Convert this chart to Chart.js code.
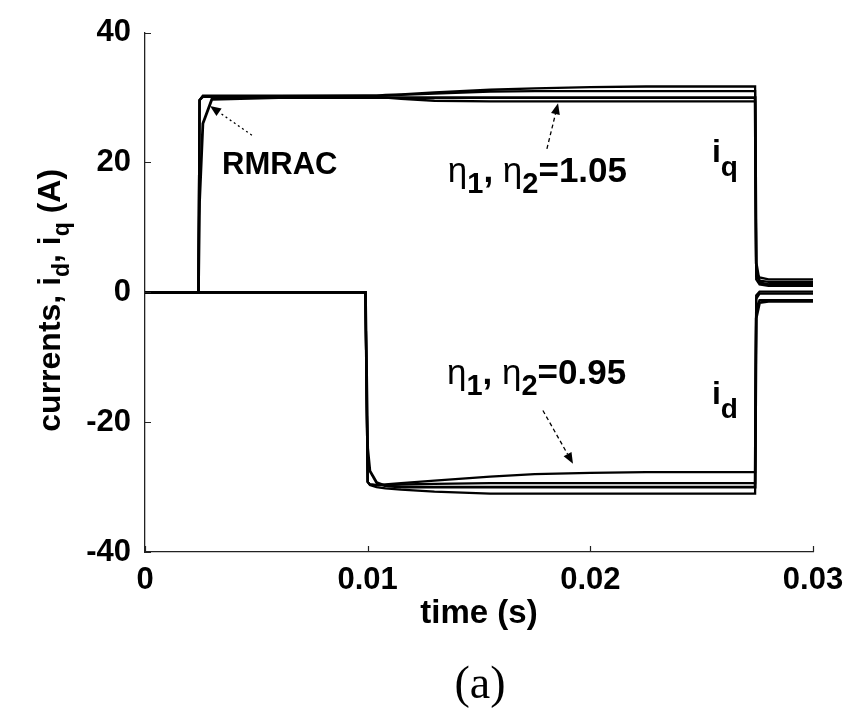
<!DOCTYPE html>
<html><head><meta charset="utf-8">
<script src="https://cdn.jsdelivr.net/npm/chart.js@4"></script>
<style>html,body{margin:0;padding:0;background:#fff;overflow:hidden}</style>
</head><body>
<canvas id="c" width="858" height="715"></canvas>
<script>
// ---- data ----
const time = [0, 0.0024, 0.00245, 0.0026, 0.003, 0.006, 0.0099, 0.01, 0.0101, 0.0104, 0.0108, 0.0115, 0.013, 0.0155, 0.0175, 0.02, 0.0225, 0.0274, 0.02745, 0.0276, 0.028, 0.03];

const iqA = [0, 0, 29.6, 30.3, 30.3, 30.3, 30.3, 30.3, 30.3, 30.3, 30.4, 30.5, 30.8, 31.2, 31.4, 31.6, 31.7, 31.7, 3.0, 2.3, 2.0, 2.0];
const iqB = [0, 0, 29.6, 30.2, 30.2, 30.2, 30.3, 30.3, 30.3, 30.3, 30.3, 30.4, 30.6, 30.9, 31.0, 31.0, 31.0, 31.0, 2.5, 1.8, 1.6, 1.6];
const iqRMRAC = [0, 0, 14, 26, 29.7, 30.0, 30.0, 30.0, 30.0, 30.0, 30.0, 30.0, 30.0, 30.0, 30.0, 30.0, 30.0, 30.0, 4.5, 1.5, 1.2, 1.2];
const iqD = [0, 0, 29.6, 30.1, 30.1, 30.1, 30.2, 30.2, 30.2, 30.1, 30.0, 29.8, 29.5, 29.4, 29.4, 29.4, 29.4, 29.4, 2.0, 1.2, 1.0, 1.0];

const idA = [0, 0, 0, 0, 0, 0, 0, -29.2, -29.6, -29.7, -29.6, -29.4, -29.0, -28.4, -28.0, -27.8, -27.7, -27.7, -0.5, 0.1, 0.1, 0.1];
const idB = [0, 0, 0, 0, 0, 0, 0, -29.2, -29.6, -29.7, -29.7, -29.6, -29.5, -29.4, -29.4, -29.4, -29.4, -29.4, -1.0, -0.2, -0.2, -0.2];
const idRMRAC = [0, 0, 0, 0, 0, 0, 0, -24, -27.5, -29.3, -29.8, -30.0, -30.0, -30.0, -30.0, -30.0, -30.0, -30.0, -4.0, -1.6, -1.4, -1.4];
const idD = [0, 0, 0, 0, 0, 0, 0, -29.2, -29.7, -30.0, -30.2, -30.4, -30.7, -31.0, -31.0, -31.0, -31.0, -31.0, -2.5, -1.2, -1.2, -1.2];

const xTicks = [0, 0.01, 0.02, 0.03];
const xTickLabels = ['0', '0.01', '0.02', '0.03'];
const yTicks = [-40, -20, 0, 20, 40];
const yTickLabels = ['-40', '-20', '0', '20', '40'];

// annotation anchors in data coordinates
const annoRMRAC = {x: 0.00346, y: 18.2};
const arrowRMRAC = {from: {x: 0.0048, y: 24.2}, to: {x: 0.00292, y: 28.7}};
const annoEta105 = {x: 0.0136, y: 17.0};
const arrowEta105 = {from: {x: 0.01805, y: 22.1}, to: {x: 0.01855, y: 29.1}};
const annoEta095 = {x: 0.01356, y: -14.1};
const arrowEta095 = {from: {x: 0.01787, y: -18.2}, to: {x: 0.01922, y: -26.4}};
const annoIq = {x: 0.02546, y: 20.1};
const annoId = {x: 0.02546, y: -17.2};

// ---- helpers ----
const FONT = "'Liberation Sans', Arial, sans-serif";
function pts(vals) { return time.map((t, i) => ({x: t, y: vals[i]})); }
function ds(vals, w) {
  return {data: pts(vals), borderColor: '#000', backgroundColor: '#000', borderWidth: w, pointRadius: 0, tension: 0, fill: false};
}
function fontFor(p, size, subSize) {
  if (p.greek) return (p.sub ? subSize : size) + 'px ' + FONT;
  return 'bold ' + (p.sub ? subSize : size) + 'px ' + FONT;
}
function richWidth(ctx, parts, size, subSize) {
  let w = 0;
  for (const p of parts) { ctx.font = fontFor(p, size, subSize); w += ctx.measureText(p.t).width; }
  return w;
}
function drawRich(ctx, x, y, parts, size, subSize, subDy, align) {
  let w = richWidth(ctx, parts, size, subSize);
  let cx = align === 'center' ? x - w / 2 : x;
  ctx.textAlign = 'left'; ctx.textBaseline = 'alphabetic';
  for (const p of parts) {
    ctx.font = fontFor(p, size, subSize);
    ctx.fillText(p.t, cx, p.sub ? y + subDy : y);
    cx += ctx.measureText(p.t).width;
  }
}
function arrow(ctx, x0, y0, x1, y1, dash) {
  ctx.save();
  ctx.strokeStyle = '#000'; ctx.fillStyle = '#000'; ctx.lineWidth = 1.3;
  const a = Math.atan2(y1 - y0, x1 - x0);
  const L = 11, H = 4.5;
  const bx = x1 - L * Math.cos(a), by = y1 - L * Math.sin(a);
  ctx.setLineDash(dash);
  ctx.beginPath(); ctx.moveTo(x0, y0); ctx.lineTo(bx, by); ctx.stroke();
  ctx.setLineDash([]);
  ctx.beginPath();
  ctx.moveTo(x1, y1);
  ctx.lineTo(bx + H * Math.sin(a), by - H * Math.cos(a));
  ctx.lineTo(bx - H * Math.sin(a), by + H * Math.cos(a));
  ctx.closePath(); ctx.fill();
  ctx.restore();
}

const decor = {
  id: 'decor',
  afterDraw(chart) {
    const ctx = chart.ctx, xs = chart.scales.x, ys = chart.scales.y, ca = chart.chartArea;
    const px = v => xs.getPixelForValue(v), py = v => ys.getPixelForValue(v);
    ctx.save();
    ctx.fillStyle = '#000';
    // inward tick marks
    ctx.strokeStyle = '#222'; ctx.lineWidth = 1.2;
    ctx.beginPath();
    for (const v of yTicks) { const y = Math.round(py(v)) + 0.5; ctx.moveTo(ca.left, y); ctx.lineTo(ca.left + 6, y); }
    for (const v of xTicks) { const x = Math.round(px(v)) + 0.5; ctx.moveTo(x, ca.bottom); ctx.lineTo(x, ca.bottom - 6); }
    ctx.stroke();

    // annotations
    ctx.textAlign = 'left'; ctx.textBaseline = 'alphabetic';
    ctx.font = 'bold 31px ' + FONT;
    ctx.fillText('RMRAC', px(annoRMRAC.x), py(annoRMRAC.y));
    arrow(ctx, px(arrowRMRAC.from.x), py(arrowRMRAC.from.y), px(arrowRMRAC.to.x), py(arrowRMRAC.to.y), [2, 3]);

    const eta = (val) => [{t: 'η', greek: true}, {t: '1', sub: true}, {t: ', '}, {t: 'η', greek: true}, {t: '2', sub: true}, {t: '=' + val}];
    drawRich(ctx, px(annoEta105.x), py(annoEta105.y), eta('1.05'), 35, 29, 11, 'left');
    arrow(ctx, px(arrowEta105.from.x), py(arrowEta105.from.y), px(arrowEta105.to.x), py(arrowEta105.to.y), [4, 3]);

    drawRich(ctx, px(annoEta095.x), py(annoEta095.y), eta('0.95'), 35, 29, 11, 'left');
    arrow(ctx, px(arrowEta095.from.x), py(arrowEta095.from.y), px(arrowEta095.to.x), py(arrowEta095.to.y), [4, 3]);

    drawRich(ctx, px(annoIq.x), py(annoIq.y), [{t: 'i'}, {t: 'q', sub: true}], 32, 28, 14, 'left');
    drawRich(ctx, px(annoId.x), py(annoId.y), [{t: 'i'}, {t: 'd', sub: true}], 32, 28, 14, 'left');

    // y axis title
    ctx.save();
    ctx.translate(ca.left - 85, (ca.top + ca.bottom) / 2 + 8);
    ctx.rotate(-Math.PI / 2);
    drawRich(ctx, 0, 0, [{t: 'currents, i'}, {t: 'd', sub: true}, {t: ', i'}, {t: 'q', sub: true}, {t: ' (A)'}], 32, 23, 9, 'center');
    ctx.restore();

    // x axis title
    ctx.textAlign = 'center';
    ctx.font = 'bold 33px ' + FONT;
    ctx.fillText('time (s)', (ca.left + ca.right) / 2, ca.bottom + 71);
    // caption
    ctx.font = '46px "Liberation Serif", "Times New Roman", serif';
    ctx.fillText('(a)', (ca.left + ca.right) / 2 + 1, ca.bottom + 146);
    ctx.restore();
  }
};

new Chart(document.getElementById('c'), {
  type: 'line',
  data: {
    datasets: [ds(iqA, 2.3), ds(iqB, 2.3), ds(iqD, 2.3), ds(iqRMRAC, 2.8), ds(idA, 2.3), ds(idB, 2.3), ds(idD, 2.3), ds(idRMRAC, 2.8)]
  },
  options: {
    responsive: false, animation: false, devicePixelRatio: 1,
    layout: {padding: {left: 0, right: 45, top: 30, bottom: 0}},
    plugins: {legend: {display: false}, tooltip: {enabled: false}, title: {display: false}},
    scales: {
      x: {
        type: 'linear', min: 0, max: 0.03,
        afterBuildTicks: s => { s.ticks = xTicks.map(v => ({value: v})); },
        afterFit: s => { s.height = 163; },
        grid: {display: false, drawTicks: false},
        border: {display: true, color: '#222', width: 1.3},
        ticks: {
          color: '#000', font: {family: FONT, size: 31, weight: 'bold'}, padding: 10, maxRotation: 0,
          callback: (v) => xTickLabels[xTicks.findIndex(t => Math.abs(t - v) < 1e-9)]
        }
      },
      y: {
        type: 'linear', min: -40, max: 40,
        afterBuildTicks: s => { s.ticks = yTicks.map(v => ({value: v})); },
        afterFit: s => { s.width = 145; },
        grid: {display: false, drawTicks: false},
        border: {display: true, color: '#222', width: 1.3},
        ticks: {
          color: '#000', font: {family: FONT, size: 31, weight: 'bold'}, padding: 14,
          callback: (v) => yTickLabels[yTicks.indexOf(v)]
        }
      }
    }
  },
  plugins: [decor]
});
</script>
</body></html>
